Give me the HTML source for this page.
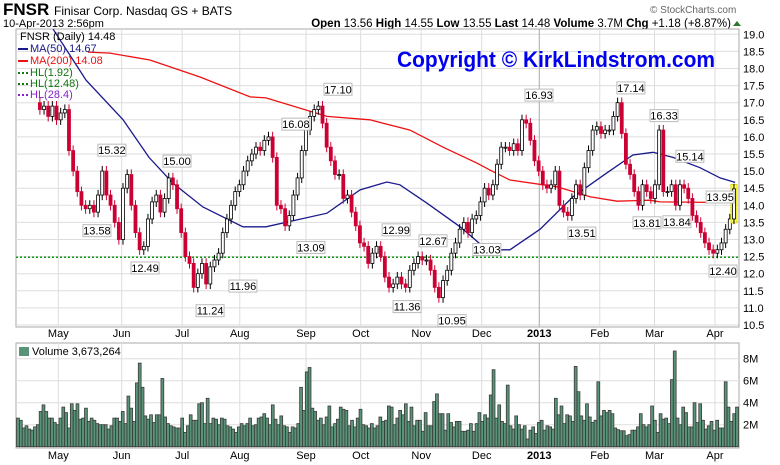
<!DOCTYPE html>
<html><head><meta charset="utf-8"><style>
html,body{margin:0;padding:0;background:#fff;}
svg{display:block;font-family:"Liberation Sans",Arial,sans-serif;}
</style></head><body>
<svg id="c" width="780" height="465" viewBox="0 0 780 465" xmlns="http://www.w3.org/2000/svg">
<text x="3" y="15" font-size="17" font-weight="bold">FNSR</text>
<text x="54" y="15" font-size="12">Finisar Corp. Nasdaq GS + BATS</text>
<text x="3" y="27" font-size="11">10-Apr-2013 2:56pm</text>
<text x="650" y="13" font-size="10" fill="#666">© StockCharts.com</text>
<text x="731" y="27" font-size="11.5" text-anchor="end"><tspan font-weight="bold">Open</tspan> 13.56 <tspan font-weight="bold">High</tspan> 14.55 <tspan font-weight="bold">Low</tspan> 13.55 <tspan font-weight="bold">Last</tspan> 14.48 <tspan font-weight="bold">Volume</tspan> 3.7M <tspan font-weight="bold">Chg</tspan> +1.18 (+8.87%)</text>
<polygon points="733,26 741,26 737,21" fill="#2a7a2a"/>
<g id="price"></g>
<g id="vol"></g>
<text x="397" y="67" font-size="22" font-weight="bold" fill="#0000ee" textLength="318" lengthAdjust="spacingAndGlyphs">Copyright © KirkLindstrom.com</text>
<g font-size="11">
<text x="20" y="40" fill="#000">FNSR (Daily) 14.48</text>
<line x1="18" y1="49" x2="28" y2="49" stroke="#1a1a8c" stroke-width="2"/><text x="30" y="52" fill="#1a1a8c">MA(50) 14.67</text>
<line x1="18" y1="61" x2="28" y2="61" stroke="#ee1111" stroke-width="2"/><text x="30" y="64" fill="#ee1111">MA(200) 14.08</text>
<line x1="18" y1="73" x2="28" y2="73" stroke="#117711" stroke-width="2" stroke-dasharray="2,2"/><text x="30" y="76" fill="#117711">HL(1.92)</text>
<line x1="18" y1="84" x2="28" y2="84" stroke="#117711" stroke-width="2" stroke-dasharray="2,2"/><text x="30" y="87" fill="#117711">HL(12.48)</text>
<line x1="18" y1="95" x2="28" y2="95" stroke="#8822cc" stroke-width="2" stroke-dasharray="2,2"/><text x="30" y="98" fill="#8822cc">HL(28.4)</text>
</g>
</svg>
<script>
const NS="http://www.w3.org/2000/svg";
const closes=[16.8,16.9,16.6,16.9,16.5,16.7,16.8,
15.6,15.0,14.4,14.0,13.9,14.0,13.8,14.3,15.0,14.3,14.0,13.5,13.0,14.5,14.9,14.0,13.2,12.7,12.8,13.6,14.1,14.3,13.8,14.2,14.8,14.6,13.9,13.2,12.5,12.3,11.6,12.0,12.3,11.7,12.2,12.4,12.6,13.2,13.6,14.0,14.4,
14.6,15.0,15.3,15.5,15.7,15.6,15.9,16.0,15.4,14.0,13.9,13.4,13.7,14.3,14.8,15.6,16.2,16.6,16.8,16.9,16.4,15.7,15.3,14.9,14.9,14.2,14.3,13.8,13.4,12.9,12.8,12.3,12.6,12.8,12.5,11.9,11.6,11.7,11.9,11.7,11.6,12.1,12.3,12.5,12.4,12.4,12.1,11.6,11.3,11.8,12.1,12.6,12.9,13.3,13.5,13.2,13.6,13.7,14.1,14.5,14.3,
14.6,15.2,15.7,15.7,15.6,15.8,15.6,16.5,16.4,15.9,15.3,15.0,14.6,14.5,14.6,15.0,14.0,13.8,13.7,14.2,14.6,14.3,15.1,15.6,16.2,16.3,16.1,16.2,16.2,16.6,17.0,16.1,15.2,14.9,14.4,14.0,14.6,
14.4,14.2,14.6,16.2,14.4,14.4,14.6,14.0,14.6,14.5,14.2,13.7,13.5,13.2,12.9,12.7,12.6,12.7,12.9,13.3,13.6,14.48];
const volumes=[2.6,2.4,1.7,1.9,1.6,1.5,1.8,2.0,3.2,3.8,3.2,2.6,2.6,2.2,2.0,2.6,3.6,3.1,1.7,3.9,3.3,3.9,2.5,2.6,3.5,2.3,2.6,2.4,2.1,2.0,2.0,2.0,1.6,1.9,2.6,2.6,2.3,3.2,2.1,4.6,3.5,2.3,5.8,7.6,5.4,2.8,2.5,2.9,2.2,2.9,2.9,6.2,2.7,2.1,1.9,1.8,1.7,1.7,2.6,1.3,1.9,2.9,2.4,2.4,3.9,4.0,2.1,4.4,2.1,2.6,2.5,2.0,2.6,2.5,1.9,1.8,1.6,1.3,1.8,2.1,1.9,2.1,2.6,1.9,2.0,2.6,2.7,3.0,2.6,2.0,3.8,2.5,2.0,2.8,1.9,1.8,1.3,1.8,1.7,2.1,5.4,3.3,6.8,7.2,3.5,3.2,2.4,2.6,2.0,2.7,3.7,1.8,2.1,2.5,3.6,3.4,3.3,1.9,2.4,1.8,2.6,3.4,2.0,1.9,1.7,2.1,1.7,1.9,2.7,2.3,2.4,3.7,
3.6,2.0,2.6,3.3,2.9,3.9,2.3,3.6,1.9,2.4,2.4,1.4,3.1,1.9,1.9,4.1,4.8,3.0,3.0,1.5,3.0,2.2,1.8,2.3,2.3,1.4,1.4,1.5,2.1,1.4,2.1,3.1,2.3,2.9,2.6,4.7,7.0,2.6,3.8,2.3,2.1,5.6,1.9,1.6,2.8,2.0,1.6,1.9,0.7,1.5,1.8,1.2,2.2,2.4,1.5,1.9,1.8,1.6,4.4,2.9,3.7,2.1,2.9,2.8,2.3,7.3,5.0,2.8,2.4,3.9,2.7,2.2,2.4,5.9,2.8,3.3,3.1,
3.3,3.0,1.7,1.55,1.45,1.45,1.0,1.1,1.5,1.5,1.8,3.0,2.0,1.8,2.0,3.7,2.4,1.3,3.0,2.5,2.6,2.1,6.1,8.7,2.6,2.0,3.6,3.1,1.8,1.8,4.0,2.2,3.9,2.4,1.6,1.9,2.3,1.5,2.4,1.7,1.7,5.9,3.6,2.3,3.0,3.6];
const ma50Days=[12.2,19.8,23.6,36.5,45.5,53.8,64.2,78.1,86.1,95.5,107.3,118.8,128.1,132.6,142.0,153.5,162.8,170.8,181.3,192.7,204.5,213.5,220.5,227.4,236.8,243.8,249];
const ma50=[19.15,18.16,17.66,16.5,15.4,14.65,13.95,13.37,13.37,13.55,13.77,14.45,14.68,14.6,14.06,13.37,12.7,12.7,13.3,14.25,14.95,15.47,15.55,15.4,15.1,14.8,14.67];
const ma200Days=[24.3,31.9,45.8,63.2,80.6,86.1,107.3,122.2,136.1,147.6,159.4,163.9,170.8,187.2,198.6,208.0,219.4,222.9,249];
const ma200=[18.48,18.45,18.25,17.75,17.17,17.14,16.6,16.5,16.2,15.7,15.23,15.03,14.74,14.54,14.25,14.12,14.15,14.1,14.08];
const hlLevel=12.48;
const priceTicks=[10.5,11.0,11.5,12.0,12.5,13.0,13.5,14.0,14.5,15.0,15.5,16.0,16.5,17.0,17.5,18.0,18.5,19.0];
const volTicks=[2,4,6,8];
const volTickLabels=["2M","4M","6M","8M"];
const months=["May","Jun","Jul","Aug","Sep","Oct","Nov","Dec","2013","Feb","Mar","Apr"];
const monthDays=[14,36,57,77,100,119,140,161,181,202,221,242];
const annLabels=["15.32","13.58","15.00","12.49","11.24","11.96","16.08","13.09","17.10","12.99","12.67","11.36","10.95","13.03","16.93","13.51","17.14","16.33","15.14","13.81","13.84","13.95","12.40"];
const annDays=[32.6,27.4,55.2,44.1,66.7,78.1,96.5,101.7,111.1,131.3,144.1,135.1,150.7,162.8,180.9,195.8,212.8,224.3,233.3,218.4,228.8,243.8,244.8];
const annDir=[1,-1,1,-1,-1,-1,1,-1,1,1,1,-1,-1,-1,1,-1,1,1,1,-1,-1,1,-1];

const L=16,R=739,PT=29,PB=327,VT=343,VB=448;
const xDay=d=>18+d*2.88;
const yP=p=>102.7+(17-p)*34.2;
const yV=v=>446.7-v*11;
const pStart=7.6,pEnd=248.6;
const priceDay=i=>pStart+i*(pEnd-pStart)/(closes.length-1);
const vStep=(737-18)/(volumes.length-1);
const xVol=i=>18+i*vStep;

function el(tag,attrs,parent){const e=document.createElementNS(NS,tag);for(const k in attrs)e.setAttribute(k,attrs[k]);parent.appendChild(e);return e;}
const gP=document.getElementById('price'),gV=document.getElementById('vol');

let r=el('rect',{x:L,y:PT,width:R-L,height:PB-PT,fill:'#fff',stroke:'#aaa'},gP);

r=el('rect',{x:L,y:VT,width:R-L,height:VB-VT,fill:'#fff',stroke:'#aaa'},gV);


priceTicks.forEach(p=>{
  const y=yP(p);
  let g=el('line',{x1:L,x2:R,y1:y,y2:y,stroke:'#ddd'},gP);
  
  let t=el('text',{x:743,y:y+4,'font-size':11,fill:'#000'},gP);t.textContent=p.toFixed(1);
  
});
volTicks.forEach((v,i)=>{
  const y=yV(v);
  let g=el('line',{x1:L,x2:R,y1:y,y2:y,stroke:'#ddd'},gV);
  
  let t=el('text',{x:743,y:y+4,'font-size':11},gV);t.textContent=volTickLabels[i];
  
});
months.forEach((m,i)=>{
  const x=xDay(monthDays[i]);
  const col=m==='2013'?'#aaa':'#ddd';
  let g=el('line',{x1:x,x2:x,y1:PT,y2:PB,stroke:col},gP);
  
  g=el('line',{x1:x,x2:x,y1:VT,y2:VB,stroke:col},gV);
  
  [337,459].forEach(yy=>{
    let t=el('text',{x:x,y:yy,'font-size':11,'text-anchor':'middle','font-weight':m==='2013'?'bold':'normal'},gV);
    t.textContent=m;
    
  });
});
el('line',{x1:R,x2:R,y1:PT,y2:PB,stroke:'#aaa'},gP);
let hl=el('line',{x1:L,x2:R,y1:yP(hlLevel),y2:yP(hlLevel),stroke:'#119911','stroke-width':1.5,'stroke-dasharray':'2,2'},gP);


function line(days,vals,color,name){
  const pts=days.map((d,i)=>xDay(d).toFixed(1)+','+Math.max(PT,yP(vals[i])).toFixed(1)).join(' ');
  const pl=el('polyline',{points:pts,fill:'none',stroke:color,'stroke-width':1.3},gP);
  
}
line(ma200Days,ma200,'#ee1111','ma200-line');
line(ma50Days,ma50,'#1a1a8c','ma50-line');

closes.forEach((c,i)=>{
  const o=i===0?17.0:closes[i-1];
  const x=xDay(priceDay(i));
  const top=Math.max(o,c)+0.15,bot=Math.min(o,c)-0.15;
  const down=c<o;
  const last=i===closes.length-1;
  if(last){
    let hb=el('rect',{x:x-3,y:yP(14.55)-2,width:6,height:yP(13.55)-yP(14.55)+4,fill:'#ffff66',stroke:'#dddd00'},gP);
    
  }
  let w=el('line',{x1:x,x2:x,y1:yP(top),y2:yP(bot),stroke:down?'#cc0033':'#000'},gP);
  
  const y1=yP(Math.max(o,c)),h=Math.max(1,yP(Math.min(o,c))-y1);
  let b=el('rect',{x:x-1.5,y:y1,width:3,height:h,fill:down?'#cc0033':'#fff',stroke:down?'#cc0033':'#000','stroke-width':0.8},gP);
  
});

annLabels.forEach((s,i)=>{
  const x=xDay(annDays[i]);const p=parseFloat(s);
  const yy=annDir[i]>0?yP(p)-16:yP(p)+5;
  let bx=el('rect',{x:x-14,y:yy,width:28,height:12,fill:'#fff',stroke:'#bbb'},gP);
  
  let t=el('text',{x:x,y:yy+10,'font-size':11,'text-anchor':'middle'},gP);t.textContent=s;
  
});

volumes.forEach((v,i)=>{
  const x=xVol(i)-vStep/2;
  let b=el('rect',{x:x,y:yV(v),width:vStep,height:yV(0)-yV(v),fill:'#5a9478',stroke:'#3a3a3a','stroke-width':0.8},gV);
  
});
let vt=el('text',{x:32,y:355,'font-size':11},gV);vt.textContent='Volume 3,673,264';

let vi=el('rect',{x:19,y:347,width:10,height:9,fill:'#5a9478'},gV);

</script>
</body></html>
